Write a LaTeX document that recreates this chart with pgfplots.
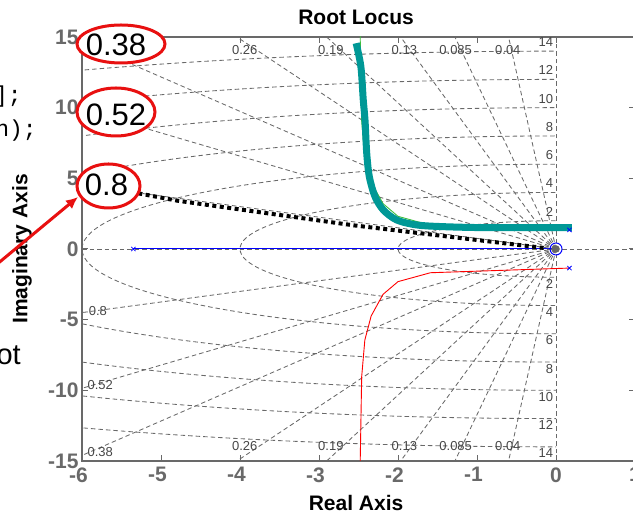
\documentclass[border=0pt]{standalone}
\usepackage{fontspec}
\setmainfont{Liberation Sans}
\newfontfamily\codefont{Liberation Mono}
\usepackage{pgfplots}
\pgfplotsset{compat=1.18}
\usetikzlibrary{arrows.meta}

\definecolor{tickgray}{RGB}{105,105,105}
\definecolor{gridgray}{RGB}{105,105,105}
\definecolor{labgray}{RGB}{70,70,70}
\definecolor{locteal}{RGB}{0,152,150}
\definecolor{markred}{RGB}{232,16,16}
\definecolor{locgreen}{RGB}{60,190,60}

\tikzset{
  sgrid/.style={gridgray, line width=0.85pt, dash pattern=on 4.5pt off 3pt},
  gl/.style={font=\fontsize{13}{15}\selectfont, text=labgray, inner sep=0pt},
  big/.style={font=\fontsize{31}{34}\selectfont, inner sep=0pt},
}

\begin{document}
\begin{tikzpicture}
\path[use as bounding box] (0pt,0pt) rectangle (633pt,516pt);
\clip (0pt,0pt) rectangle (633pt,516pt);

% code fragments and text of the slide behind the chart
\node[font=\codefont\fontsize{23}{26}\selectfont, anchor=base east, inner sep=0pt] at (22pt,413pt) {den = [1 5 1 9];};
\node[font=\codefont\fontsize{23}{26}\selectfont, anchor=base east, inner sep=0pt] at (37pt,379pt) {rlocus(num,den);};
\node[font=\fontsize{29}{32}\selectfont, anchor=base east, inner sep=0pt] at (21pt,151pt) {Root};

\begin{axis}[
  at={(82pt,55pt)}, anchor=south west,
  scale only axis, width=553pt, height=424pt,
  xmin=-6, xmax=1, ymin=-15, ymax=15,
  xtick={-6,-5,-4,-3,-2,-1,0,1},
  xticklabels={\llap{-}6,\llap{-}5,\llap{-}4,\llap{-}3,\llap{-}2,\llap{-}1,0,1},
  ytick={-15,-10,-5,0,5,10,15},
  yticklabels={-15,-10,-5,0,5,10,15},
  tick align=inside, major tick length=6pt,
  axis line style={tickgray, line width=1.2pt},
  tick style={tickgray, line width=1pt},
  ticklabel style={font=\bfseries\fontsize{21}{24}\selectfont, text=tickgray},
  xticklabel style={yshift=-3pt},
  title={Root Locus},
  xlabel={Real Axis},
  ylabel={Imaginary Axis},
  label style={font=\bfseries\fontsize{21}{24}\selectfont},
  title style={font=\bfseries\fontsize{21}{24}\selectfont, at={(axis description cs:0.4955,1.033)}, anchor=center, yshift=0pt},
  xlabel style={at={(axis description cs:0.4955,-0.099)}, anchor=center},
  ylabel style={at={(axis description cs:-0.1085,0.5)}, anchor=center},
]

% root locus branch on the real axis
\addplot[blue, line width=1pt] coordinates {(-5.35,0) (0,0)};

% sgrid: damping lines
\addplot[sgrid] coordinates {(0,0) (-1.2,29.976)};
\addplot[sgrid] coordinates {(0,0) (-1.2,-29.976)};
\addplot[sgrid] coordinates {(0,0) (-2.55,29.891)};
\addplot[sgrid] coordinates {(0,0) (-2.55,-29.891)};
\addplot[sgrid] coordinates {(0,0) (-3.9,29.745)};
\addplot[sgrid] coordinates {(0,0) (-3.9,-29.745)};
\addplot[sgrid] coordinates {(0,0) (-5.7,29.453)};
\addplot[sgrid] coordinates {(0,0) (-5.7,-29.453)};
\addplot[sgrid] coordinates {(0,0) (-7.8,28.968)};
\addplot[sgrid] coordinates {(0,0) (-7.8,-28.968)};
\addplot[sgrid] coordinates {(0,0) (-11.4,27.75)};
\addplot[sgrid] coordinates {(0,0) (-11.4,-27.75)};
\addplot[sgrid] coordinates {(0,0) (-15.6,25.625)};
\addplot[sgrid] coordinates {(0,0) (-15.6,-25.625)};
\addplot[sgrid] coordinates {(0,0) (-24,18)};
\addplot[sgrid] coordinates {(0,0) (-24,-18)};
\addplot[sgrid] coordinates {(-6,0) (1,0)};
\addplot[sgrid] coordinates {(0,-15) (0,15)};

% sgrid: natural frequency semicircles
\begin{scope}
\clip (axis cs:-6,-15) rectangle (axis cs:0,15);
\pgfplotsinvokeforeach{2,4,6,8,10,12,14}{
  \draw[sgrid] (axis cs:0,0) ellipse[x radius=#1, y radius=#1];
}
\end{scope}

% sgrid labels (the upper left ones are covered by the red marks)
\node[gl] at (axis cs:-3.94,14.08) {0.26};
\node[gl] at (axis cs:-2.85,14.08) {0.19};
\node[gl] at (axis cs:-1.92,14.08) {0.13};
\node[gl] at (axis cs:-1.27,14.08) {0.085};
\node[gl] at (axis cs:-0.61,14.08) {0.04};
\node[gl] at (axis cs:-3.94,-13.94) {0.26};
\node[gl] at (axis cs:-2.85,-13.94) {0.19};
\node[gl] at (axis cs:-1.92,-13.94) {0.13};
\node[gl] at (axis cs:-1.27,-13.94) {0.085};
\node[gl] at (axis cs:-0.61,-13.94) {0.04};
\node[gl] at (axis cs:-5.80,-4.39) {0.8};
\node[gl] at (axis cs:-5.77,-9.62) {0.52};
\node[gl] at (axis cs:-5.77,-14.37) {0.38};
\pgfplotsinvokeforeach{2,4,6,8,10,12,14}{
  \node[gl, anchor=east] at (axis cs:-0.035,#1+0.64) {#1};
  \node[gl, anchor=east] at (axis cs:-0.035,-#1-0.46) {#1};
}

% root locus, complex branches
\addplot[red, line width=0.9pt] coordinates {
  (0.17,-1.35) (-1.59,-1.68) (-2.00,-2.31) (-2.19,-3.21) (-2.34,-4.74)
  (-2.42,-6.44) (-2.46,-9.04) (-2.48,-15.5)
};
\addplot[locgreen, line width=0.9pt] coordinates {
  (0.17,1.35) (-1.59,1.68) (-2.00,2.31) (-2.19,3.21) (-2.34,4.74)
  (-2.42,6.44) (-2.46,9.04) (-2.48,15.5)
};

% hand-drawn highlight of the upper branch
\addplot[locteal, line width=7pt, line cap=butt, smooth, tension=0.5] coordinates {
  (0.20,1.51) (-0.877,1.51) (-1.427,1.58) (-1.763,1.70) (-2.016,2.05)
  (-2.186,2.76) (-2.291,3.70) (-2.363,5.11) (-2.396,6.77) (-2.418,9.13)
  (-2.44,10.55) (-2.47,12.9) (-2.53,14.56)
};

% dotted line towards the 0.8 damping label
\addplot[black, line width=4pt, dash pattern=on 4pt off 3.5pt] coordinates {
  (-5.287,3.94) (-4.797,3.42) (-2.57,1.68) (-0.118,0.05)
};

% poles and zero
\addplot[only marks, mark=*, mark size=3.5pt, gray!80!black] coordinates {(0,0)};
\addplot[only marks, mark=o, mark size=6pt, blue, line width=1pt] coordinates {(0,0)};
\addplot[only marks, mark=x, mark size=3pt, blue, line width=0.8pt] coordinates {
  (-5.35,0) (0.17,1.35) (0.17,-1.35)
};
\end{axis}

% annotations drawn over the chart
\draw[markred, line width=3pt, fill=white] (121pt,472pt) ellipse[x radius=44pt, y radius=19pt];
\draw[markred, line width=3pt, fill=white] (116pt,404pt) ellipse[x radius=39pt, y radius=24pt];
\draw[markred, line width=3pt, fill=white] (108.5pt,330pt) ellipse[x radius=31.5pt, y radius=22pt];
\node[big] at (116pt,471pt) {0.38};
\node[big] at (116pt,401.5pt) {0.52};
\node[big] at (106.5pt,331pt) {0.8};
\draw[markred, line width=3pt, -{Latex[length=12pt, width=11pt]}] (-10pt,246pt) -- (78pt,319pt);
\end{tikzpicture}
\end{document}
